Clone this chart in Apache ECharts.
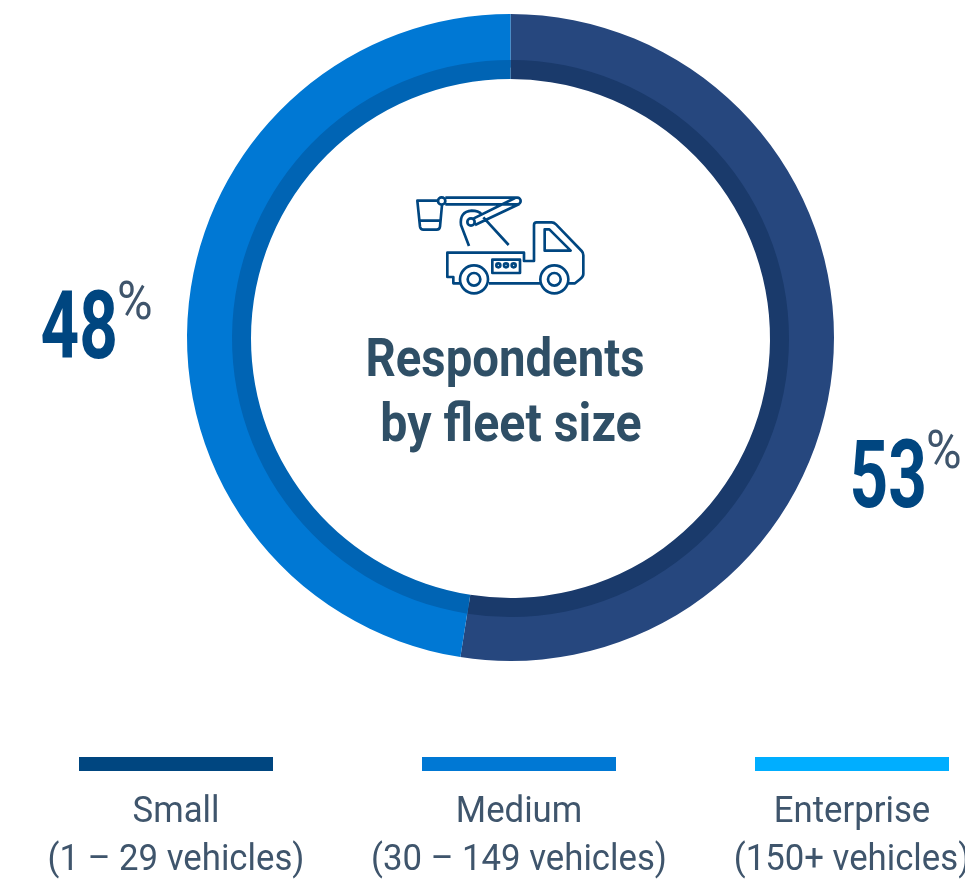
<!DOCTYPE html>
<html>
<head>
<meta charset="utf-8">
<style>html,body{margin:0;padding:0;background:#fff;overflow:hidden}#chart{width:965px;height:883px}</style>
<script src="https://cdn.jsdelivr.net/npm/echarts@6/dist/echarts.min.js"></script>
</head>
<body>
<div id="chart"></div>
<script>
// Fleet size shares
const segmentNames = ['Small', 'Medium'];
const segmentValues = [53, 48];
const outerColors = ['#26477e', '#0078d4'];
const innerColors = ['#1a3a6b', '#0064b4'];

// Legend rows
const legendNames = ['Small', 'Medium', 'Enterprise'];
const legendRanges = ['(1 – 29 vehicles)', '(30 – 149 vehicles)', '(150+ vehicles)'];
const legendColors = ['#004680', '#0078d4', '#00aeff'];
const legendLeft = [79, 422, 755];

const titleLines = ['Respondents', 'by fleet size'];

const FONT = 'Roboto, sans-serif';
const NAVY = '#004680';
const SLATE = '#3f556c';

const ringData = (colors) => segmentNames.map((name, i) => ({
  name, value: segmentValues[i], itemStyle: { color: colors[i] }
}));

const ringSeries = (center, radius, colors) => ({
  type: 'pie',
  center,
  radius,
  startAngle: 90,
  silent: true,
  animation: false,
  label: { show: false },
  labelLine: { show: false },
  data: ringData(colors)
});

function text(x, y, str, size, weight, color, scaleX, align) {
  return {
    type: 'text', x, y, scaleX,
    style: {
      text: str, fill: color, textAlign: align || 'center', textVerticalAlign: 'middle',
      fontFamily: FONT, fontSize: size, fontWeight: weight
    }
  };
}

// Share callouts: a heavy condensed number with a lighter raised percent sign
function callout(value, x, y) {
  return [
    text(x, y, String(value), 95, 700, NAVY, 0.71, 'right'),
    text(x - 1, y - 29, '%', 54, 400, SLATE, 0.9, 'left')
  ];
}

// Bucket truck pictogram, outlined in a single stroke
const truckPath = [
  'M115,62H52L60,140Q62,149 70,149H110Q119,149 120,140L126,75',
  'M57,122H122',
  'M136,53H352A10,10 0 0 1 352,73H136',
  'M114,63A11,11 0 1 0 136,63A11,11 0 1 0 114,63Z',
  'M220,116L345,54M225,135L358,72',
  'M202,126A11,11 0 1 0 224,126A11,11 0 1 0 202,126Z',
  'M207,198L183,135Q178,95 215,92Q235,92 245,103',
  'M250,112L326,195',
  'M180,310H160V291H142V218H372V243H402V135Q402,127 410,127H455Q462,127 468,133L545,213Q550,218 550,226V282Q550,290 540,298L525,310H505',
  'M267,310H422',
  'M434,148H448L512,212H434Z',
  'M277,239H360V279H277Z',
  'M289,256A6,6 0 1 0 301,256A6,6 0 1 0 289,256Z',
  'M312,256A6,6 0 1 0 324,256A6,6 0 1 0 312,256Z',
  'M335,256A6,6 0 1 0 347,256A6,6 0 1 0 335,256Z',
  'M180,298A42,42 0 1 0 264,298A42,42 0 1 0 180,298Z',
  'M203,298A19,19 0 1 0 241,298A19,19 0 1 0 203,298Z',
  'M421,298A42,42 0 1 0 505,298A42,42 0 1 0 421,298Z',
  'M444,298A19,19 0 1 0 482,298A19,19 0 1 0 444,298Z'
].join('');

echarts.graphic.registerShape('truckIcon', echarts.graphic.extendPath(truckPath, {}));

const graphics = [
  {
    type: 'group', x: 400, y: 180, scaleX: 1 / 3, scaleY: 1 / 3,
    children: [{
      type: 'truckIcon',
      style: { fill: 'none', stroke: NAVY, lineWidth: 8, lineJoin: 'round', lineCap: 'butt' }
    }]
  },
  text(505, 362, titleLines[0], 54, 700, '#2f4f66', 0.876),
  text(511, 427, titleLines[1], 54, 700, '#2f4f66', 0.895),
  ...callout(segmentValues[1], 118, 334),
  ...callout(segmentValues[0], 927, 483)
];

legendNames.forEach((name, i) => {
  const left = legendLeft[i];
  const mid = left + 97;
  graphics.push({
    type: 'rect',
    shape: { x: left, y: 757, width: 194, height: 14 },
    style: { fill: legendColors[i] }
  });
  graphics.push(text(mid, 813, name, 36, 400, SLATE, 0.965));
  graphics.push(text(mid, 861, legendRanges[i], 36, 400, SLATE, 0.965));
});

const chart = echarts.init(document.getElementById('chart'), null, { renderer: 'canvas' });
chart.setOption({
  animation: false,
  backgroundColor: '#ffffff',
  series: [
    // The outer band runs under the inner one so no seam shows between them
    ringSeries([510.5, 337.5], [270, 323.5], outerColors),
    ringSeries([510.5, 338.5], [259.5, 278.5], innerColors)
  ],
  graphic: graphics
});
</script>
</body>
</html>
